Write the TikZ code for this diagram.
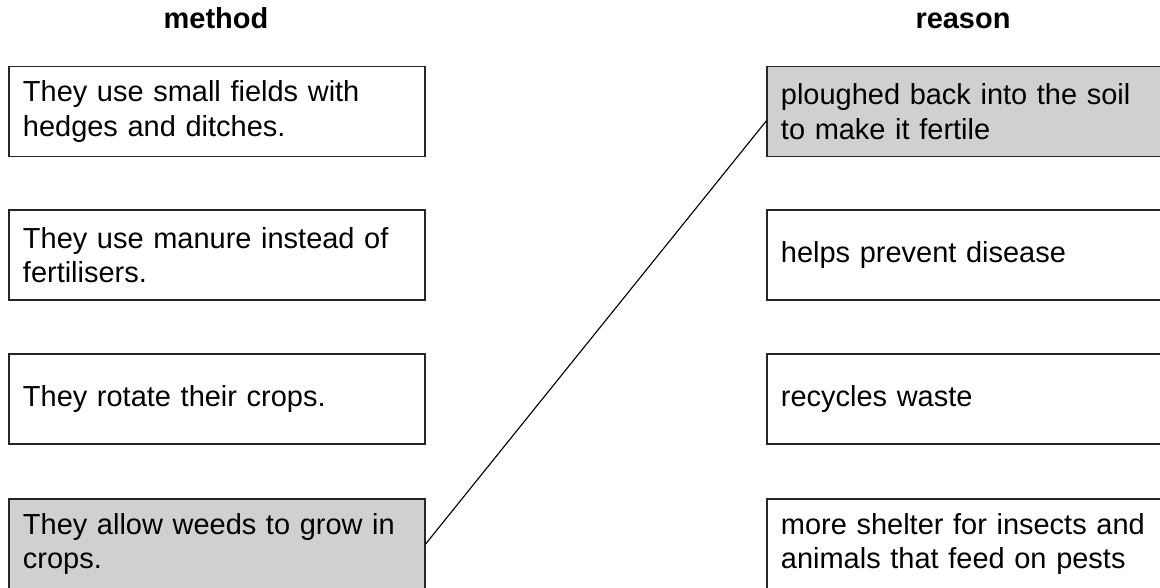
\documentclass[tikz,border=0pt]{standalone}
\usepackage{fontspec}
\setmainfont{Liberation Sans}
\usetikzlibrary{calc}
\definecolor{boxgray}{RGB}{208,208,208}
\tikzset{
  card/.style={draw=black!85, line width=0.8pt, fill=white, text width=9.7cm, inner xsep=0.35cm,
    minimum height=2.25cm, align=left, anchor=center,
    font=\fontsize{20.6pt}{24.5pt}\selectfont},
  shaded/.style={fill=boxgray},
  head/.style={font=\fontsize{20.6pt}{24pt}\selectfont\bfseries, anchor=base},
  link/.style={draw=black, line width=0.8pt}
}
\begin{document}
\begin{tikzpicture}[x=0.025cm, y=-0.025cm]
\useasboundingbox (0,0) rectangle (1160,587);
\clip (0,0) rectangle (1160,587);
\node[head] (hm) at (216,28) {method};
\node[head] (hr) at (963,28) {reason};

\node[card] (L1) at (217,111.7) {They use small fields with\\hedges and ditches.};
\node[card] (L2) at (217,255) {They use manure instead of\\fertilisers.};
\node[card] (L3) at (217,399) {They rotate their crops.};
\node[card,shaded] (L4) at (217,544) {They allow weeds to grow in\\crops.};

\node[card,shaded] (R1) at (975,111.7) {ploughed back into the soil\\to make it fertile};
\node[card] (R2) at (975,255) {helps prevent disease};
\node[card] (R3) at (975,399) {recycles waste};
\node[card] (R4) at (975,544) {more shelter for insects and\\animals that feed on pests};

\coordinate (s) at ($(L4.north east)!0.5!(L4.south east)$);
\coordinate (e) at ($(R1.north west)!0.6!(R1.south west)$);
\draw[link] (s) -- (e);
\end{tikzpicture}
\end{document}
